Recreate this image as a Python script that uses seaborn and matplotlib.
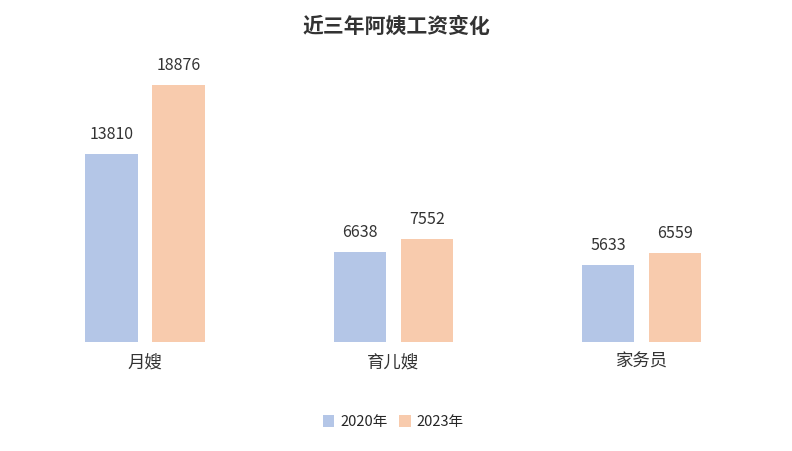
import pandas as pd
import matplotlib.pyplot as plt
import seaborn as sns

# === Data ===
categories = ["月嫂", "育儿嫂", "家务员"]
years = ["2020年", "2023年"]
wage_2020 = [13810, 6638, 5633]
wage_2023 = [18876, 7552, 6559]
colors = ["#B4C6E7", "#F8CBAD"]

df = pd.DataFrame({
    "job": categories * 2,
    "year": [years[0]] * 3 + [years[1]] * 3,
    "wage": wage_2020 + wage_2023,
})

sns.set_style("white")
plt.rcParams["font.family"] = ["Noto Sans CJK SC", "DejaVu Sans"]

fig = plt.figure(figsize=(7.92, 4.51), dpi=100)
ax = fig.add_axes([0.0262, 0.2417, 0.941, 0.6038])
sns.barplot(data=df, x="job", y="wage", hue="year", palette=colors,
            width=0.54, gap=0.222, saturation=1, linewidth=0, ax=ax, legend=True)

for c in ax.containers:
    ax.bar_label(c, fmt="%d", padding=8, fontsize=11.5, color="#333333")

ax.set_ylim(0, 20000)
ax.set_xlim(-0.5, 2.5)
ax.set_xlabel("")
ax.set_ylabel("")
ax.set_yticks([])
ax.tick_params(axis="x", length=0, labelsize=12.5, colors="#333333", pad=8)
sns.despine(ax=ax, left=True, bottom=True)

fig.suptitle("近三年阿姨工资变化", y=0.965, fontsize=15, fontweight="bold", color="#333333")
ax.legend(loc="upper center", bbox_to_anchor=(0.5, -0.22), ncol=2, frameon=False,
          fontsize=10.5, handlelength=0.8, handleheight=0.8, columnspacing=0.8,
          handletextpad=0.4)

plt.savefig("out.png", dpi=100)
